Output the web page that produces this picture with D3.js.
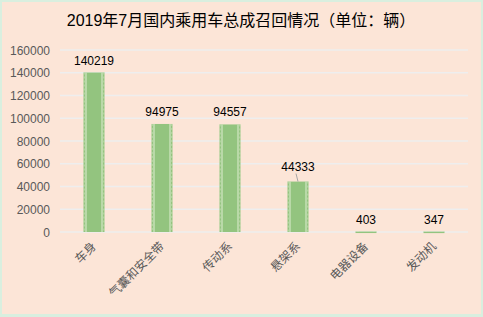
<!DOCTYPE html>
<html>
<head>
<meta charset="utf-8">
<script src="https://cdn.jsdelivr.net/npm/d3@7"></script>
<style>
  body { margin: 0; background: #fff; }
  svg { display: block; font-family: "Liberation Sans", Arial, "Noto Sans CJK SC", sans-serif; }
</style>
</head>
<body>
<svg id="chart" width="483" height="317"></svg>
<script>
// data
var categories = ['车身', '气囊和安全带', '传动系', '悬架系', '电器设备', '发动机'];
var recalls = [140219, 94975, 94557, 44333, 403, 347];
var yTicks = [0, 20000, 40000, 60000, 80000, 100000, 120000, 140000, 160000];

var W = 483, H = 317;
var m = {left: 60, right: 15, top: 50, bottom: 85};

var svg = d3.select('#chart');

// outer frame + peach background
svg.append('rect').attr('width', W).attr('height', H).attr('fill', '#d9efdf');
svg.append('rect')
   .attr('x', 2).attr('y', 2)
   .attr('width', W - 4).attr('height', H - 5)
   .attr('fill', '#fce5d7');

var x = d3.scaleBand().domain(categories).range([m.left, W - m.right]);
var y = d3.scaleLinear().domain([0, 160000]).range([H - m.bottom, m.top]);

// title
svg.append('text')
   .attr('x', 241).attr('y', 26)
   .attr('text-anchor', 'middle')
   .attr('font-size', 16)
   .attr('fill', '#000')
   .text('2019年7月国内乘用车总成召回情况（单位：辆）');

// gridlines
svg.append('g').selectAll('line').data(yTicks).enter().append('line')
   .attr('x1', m.left).attr('x2', W - m.right)
   .attr('y1', d => y(d)).attr('y2', d => y(d))
   .attr('stroke', '#eeeeee').attr('stroke-width', 1.3);

// y axis
var yAxis = svg.append('g')
   .attr('transform', 'translate(' + (m.left - 7) + ',0)')
   .call(d3.axisLeft(y).tickValues(yTicks).tickSize(0).tickFormat(d3.format('d')));
yAxis.select('.domain').remove();
yAxis.selectAll('text').attr('font-size', 12).attr('fill', '#595959').attr('dy', '0.35em')
     .attr('font-family', '"Liberation Sans", Arial, sans-serif');

// x axis labels (rotated)
var xAxis = svg.append('g')
   .attr('transform', 'translate(0,' + (H - m.bottom) + ')')
   .call(d3.axisBottom(x).tickSize(0));
xAxis.select('.domain').remove();
xAxis.selectAll('text')
   .attr('font-size', 12).attr('fill', '#595959')
   .attr('font-family', '"Noto Sans CJK SC", sans-serif')
   .attr('text-anchor', 'end')
   .attr('dy', 0).attr('dx', 0)
   .attr('y', 0)
   .attr('transform', 'translate(3,15) rotate(-45)');

// bars
var bw = 21;
var bars = svg.append('g').selectAll('g').data(recalls).enter().append('g')
   .attr('transform', (d, i) => 'translate(' + (x(categories[i]) + x.bandwidth() / 2 - bw / 2) + ',0)');

bars.append('rect')
   .attr('x', 0).attr('width', bw)
   .attr('y', d => y(d)).attr('height', d => Math.max(1.5, y(0) - y(d)))
   .attr('fill', '#93c47f');

// light inner stripes
[2.5, bw - 2.5].forEach(function(sx) {
  bars.append('line')
     .attr('x1', sx).attr('x2', sx)
     .attr('y1', d => y(d)).attr('y2', y(0))
     .attr('stroke', '#d3e8c4').attr('stroke-width', 1.2);
});
// dotted outer edges
[0.5, bw - 0.5].forEach(function(sx) {
  bars.append('line')
     .attr('x1', sx).attr('x2', sx)
     .attr('y1', d => y(d)).attr('y2', y(0))
     .attr('stroke', '#c9dfb7').attr('stroke-width', 1)
     .attr('stroke-dasharray', '2,2');
});

// value labels
svg.append('g').selectAll('text').data(recalls).enter().append('text')
   .attr('x', (d, i) => x(categories[i]) + x.bandwidth() / 2)
   .attr('y', (d, i) => i === 3 ? y(d) - 11 : y(d) - 8)
   .attr('text-anchor', 'middle')
   .attr('font-size', 12).attr('fill', '#000')
   .text(d => d);

// leader line for 悬架系
var cx3 = x(categories[3]) + x.bandwidth() / 2;
svg.append('line')
   .attr('x1', cx3 - 2).attr('y1', y(recalls[3]) - 8)
   .attr('x2', cx3).attr('y2', y(recalls[3]))
   .attr('stroke', '#a6a6a6').attr('stroke-width', 1);
</script>
</body>
</html>
